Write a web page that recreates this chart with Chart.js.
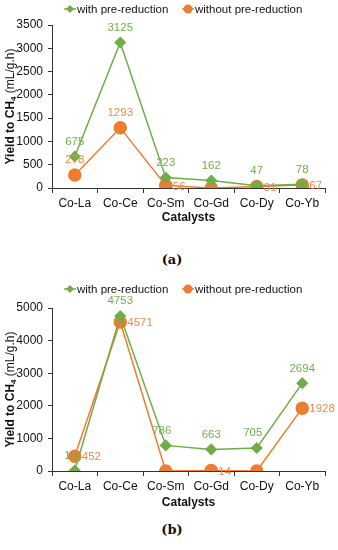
<!DOCTYPE html>
<html>
<head>
<meta charset="utf-8">
<script src="https://cdn.jsdelivr.net/npm/chart.js@4/dist/chart.umd.min.js"></script>
<style>
  body { margin: 0; background: #fff; width: 338px; height: 550px; position: relative; overflow: hidden; }
  .box { position: absolute; left: 0; width: 338px; }
  .cap { position: absolute; left: 0; width: 344px; text-align: center; font-family: "DejaVu Serif", "Liberation Serif", serif; font-size: 13px; font-weight: bold; color: #111; }
</style>
</head>
<body>
<div class="box" style="top:0;height:225px"><canvas id="chartA"></canvas></div>
<div class="cap" style="top:252px">(a)</div>
<div class="box" style="top:270px;height:240px"><canvas id="chartB"></canvas></div>
<div class="cap" style="top:522px">(b)</div>
<script>
const catalysts = ['Co-La', 'Co-Ce', 'Co-Sm', 'Co-Gd', 'Co-Dy', 'Co-Yb'];
const seriesNames = ['with pre-reduction', 'without pre-reduction'];

// (a)
const withA = [675, 3125, 223, 162, 47, 78];
const withoutA = [278, 1293, 56, 0, 31, 67];
const yTicksA = { max: 3500, step: 500 };

// (b)
const withB = [13, 4753, 786, 663, 705, 2694];
const withoutB = [452, 4571, 0, 14, 0, 1928];
const yTicksB = { max: 5000, step: 1000 };

// where each value label sits
const labelPosA = [
    ['top', 'top', 'top', 'top', 'top', 'top'],
    ['top', 'top', 'right', null, 'right', 'right']
];
const labelPosB = [
    ['topleft', 'top', 'topleft', 'top', 'topleft', 'top'],
    ['right', 'right', null, 'right', null, 'right']
];

const GREEN = '#70ad47';
const ORANGE = '#ed7d31';
const FONT = '"Liberation Sans", Arial, sans-serif';

const valueLabels = {
    id: 'valueLabels',
    afterDatasetsDraw(chart, args, opts) {
        const ctx = chart.ctx;
        ctx.save();
        ctx.font = '11.5px ' + FONT;
        chart.data.datasets.forEach((ds, i) => {
            const meta = chart.getDatasetMeta(i);
            meta.data.forEach((pt, j) => {
                const pos = opts.pos[i][j];
                if (!pos) return;
                const txt = String(ds.data[j]);
                ctx.fillStyle = ds.labelColor;
                if (pos === 'right') {
                    ctx.textAlign = 'left';
                    ctx.textBaseline = 'middle';
                    ctx.fillText(txt, pt.x + 7, pt.y + 1);
                } else if (pos === 'topleft') {
                    ctx.textAlign = 'center';
                    ctx.textBaseline = 'bottom';
                    ctx.fillText(txt, pt.x - 4, pt.y - 9);
                } else {
                    ctx.textAlign = 'center';
                    ctx.textBaseline = 'bottom';
                    ctx.fillText(txt, pt.x, pt.y - 9);
                }
            });
        });
        ctx.restore();
    }
};

const sideTitle = {
    id: 'sideTitle',
    afterDraw(chart) {
        const ctx = chart.ctx;
        const a = chart.chartArea;
        const p1 = 'Yield to CH', p2 = '4', p3 = ' (mL/g.h)';
        ctx.save();
        ctx.fillStyle = '#111';
        ctx.font = 'bold 12px ' + FONT;
        const w1 = ctx.measureText(p1).width;
        ctx.font = 'bold 8px ' + FONT;
        const w2 = ctx.measureText(p2).width;
        ctx.font = '12px ' + FONT;
        const w3 = ctx.measureText(p3).width;
        const total = w1 + w2 + w3;
        ctx.translate(11, (a.top + a.bottom) / 2);
        ctx.rotate(-Math.PI / 2);
        ctx.textBaseline = 'middle';
        ctx.textAlign = 'left';
        let x = -total / 2;
        ctx.font = 'bold 12px ' + FONT;
        ctx.fillText(p1, x, 0);
        x += w1;
        ctx.font = 'bold 8px ' + FONT;
        ctx.fillText(p2, x, 3);
        x += w2;
        ctx.font = '12px ' + FONT;
        ctx.fillText(p3, x, 0);
        ctx.restore();
    }
};

const topLegend = {
    id: 'topLegend',
    afterDraw(chart, args, opts) {
        const ctx = chart.ctx;
        ctx.save();
        ctx.font = '11.5px ' + FONT;
        ctx.textBaseline = 'middle';
        ctx.textAlign = 'left';
        const xs = [70, 188];
        chart.data.datasets.forEach((ds, i) => {
            const cx = xs[i], cy = opts.y;
            ctx.strokeStyle = ds.borderColor;
            ctx.lineWidth = 1.5;
            ctx.beginPath();
            ctx.moveTo(cx - 6, cy);
            ctx.lineTo(cx + 6, cy);
            ctx.stroke();
            ctx.fillStyle = ds.backgroundColor;
            ctx.beginPath();
            if (ds.pointStyle === 'rectRot') {
                ctx.moveTo(cx, cy - 4);
                ctx.lineTo(cx + 4, cy);
                ctx.lineTo(cx, cy + 4);
                ctx.lineTo(cx - 4, cy);
                ctx.closePath();
            } else {
                ctx.arc(cx, cy, 4.5, 0, Math.PI * 2);
            }
            ctx.fill();
            ctx.fillStyle = '#111';
            ctx.fillText(ds.label, cx + 7, cy + 1);
        });
        ctx.restore();
    }
};

function makeChart(id, withData, withoutData, yt, pos, o) {
    return new Chart(document.getElementById(id), {
        type: 'line',
        data: {
            labels: catalysts,
            datasets: [
                {
                    label: seriesNames[0],
                    data: withData,
                    borderColor: GREEN,
                    backgroundColor: GREEN,
                    labelColor: '#6fb04a',
                    borderWidth: 1.5,
                    pointStyle: 'rectRot',
                    pointRadius: 5,
                    tension: 0
                },
                {
                    label: seriesNames[1],
                    data: withoutData,
                    borderColor: ORANGE,
                    backgroundColor: ORANGE,
                    labelColor: '#f28a45',
                    borderWidth: 1.5,
                    pointStyle: 'circle',
                    pointRadius: 6,
                    tension: 0
                }
            ]
        },
        options: {
            responsive: true,
            maintainAspectRatio: false,
            animation: false,
            layout: { padding: { top: o.top, right: 13, left: 0, bottom: 0 } },
            plugins: {
                legend: { display: false },
                tooltip: { enabled: false },
                valueLabels: { pos: pos },
                topLegend: { y: o.legendY }
            },
            scales: {
                x: {
                    offset: true,
                    grid: { display: true, offset: true, drawOnChartArea: false, tickLength: 5, color: '#333' },
                    border: { color: '#333', width: 1 },
                    ticks: { color: '#111', font: { family: FONT, size: 12 }, padding: 3 },
                    title: { display: true, text: 'Catalysts', color: '#111', font: { family: FONT, size: 12, weight: 'bold' }, padding: { top: 0, bottom: 0 } },
                    afterFit: s => { s.height = o.xH; }
                },
                y: {
                    min: 0,
                    max: yt.max,
                    grid: { display: true, drawOnChartArea: false, tickLength: 4, color: '#333' },
                    border: { color: '#333', width: 1 },
                    ticks: { stepSize: yt.step, color: '#111', font: { family: FONT, size: 12 }, padding: 5, callback: v => String(v) },
                    afterFit: s => { s.width = 52; }
                }
            }
        },
        plugins: [valueLabels, sideTitle, topLegend]
    });
}

makeChart('chartA', withA, withoutA, yTicksA, labelPosA, { top: 25, xH: 37, legendY: 9 });
makeChart('chartB', withB, withoutB, yTicksB, labelPosB, { top: 38, xH: 39, legendY: 19 });
</script>
</body>
</html>
